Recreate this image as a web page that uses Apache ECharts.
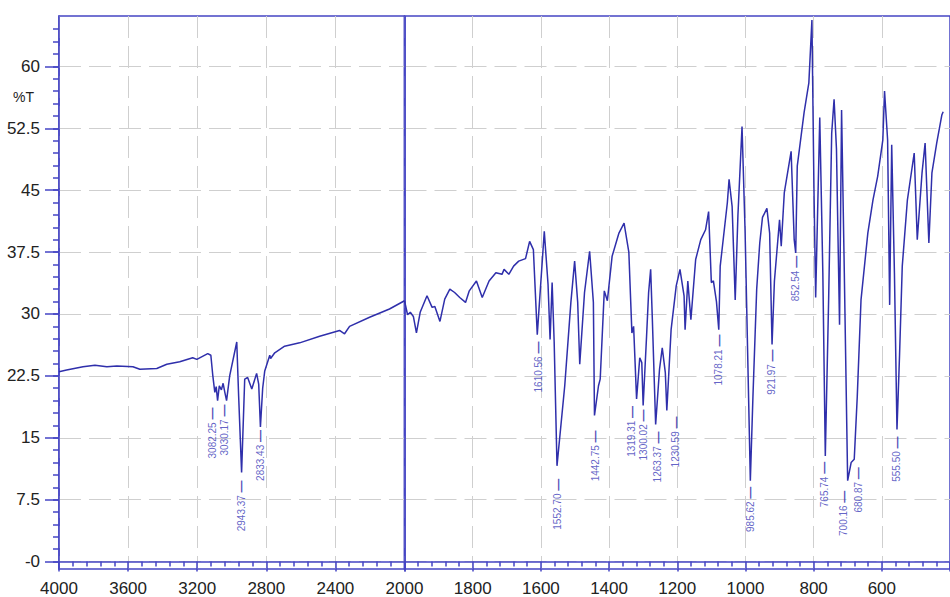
<!DOCTYPE html>
<html><head><meta charset="utf-8">
<script src="https://cdn.jsdelivr.net/npm/echarts@6/dist/echarts.min.js"></script>
<style>html,body{margin:0;padding:0;background:#fff}#c{width:950px;height:597px}</style>
</head><body><div id="c"></div>
<script>
// ---- Data: FTIR spectrum, wavenumber (cm-1) vs %T ----
// 4000-2000 cm-1 segment
const wnLeft = [4000,3956,3861,3792,3723,3665,3572,3532,3434,3376,3301,3226,3202,3139,3121,3110,3098,3090,3082,3072,3060,3050,3040,3030,3012,2971,2960,2943,2925,2908,2884,2856,2844,2834,2821,2809,2780,2775,2751,2694,2607,2491,2376,2347,2318,2202,2087,2000];
const tLeft  = [23.0,23.2,23.6,23.8,23.6,23.7,23.6,23.3,23.4,23.9,24.2,24.7,24.5,25.2,25.0,22.6,20.5,21.2,19.5,21.3,20.8,21.6,20.5,19.5,22.5,26.6,20.0,10.8,22.1,22.3,20.9,22.8,21.5,16.3,21.0,23.1,25.0,24.6,25.3,26.1,26.5,27.3,28.0,27.6,28.5,29.6,30.6,31.6];
// 2000-420 cm-1 segment
const wnRight = [2000,1991,1983,1974,1965,1954,1934,1919,1911,1896,1882,1867,1853,1838,1821,1810,1789,1772,1752,1732,1714,1708,1694,1680,1665,1645,1633,1622,1610.56,1590,1579,1573,1567,1561,1552.7,1530,1512,1501,1492,1486,1472,1457,1446,1442.75,1431,1426,1414,1405,1391,1371,1356,1342,1333,1328,1319.31,1310,1304,1300.02,1290,1284,1278,1273,1263.37,1252,1244,1235,1230.59,1218,1203,1192,1180,1177,1169,1160,1146,1131,1117,1108,1100,1094,1085,1078.21,1074,1053,1048,1039,1030,1022,1010,1001,985.62,978,967,958,950,937,929,921.97,915,900,895,886,866,857,852.54,848,828,814,805,799,794,782,773,765.74,756,747,740,733,724,718,710,700.16,690,680.87,672,661,641,626,612,597,592,583,577,571,563,555.5,548,540,525,505,496,482,473,462,453,439,424,420];
const tRight  = [31.6,29.9,30.2,29.7,27.7,30.2,32.2,30.8,30.9,29.1,31.8,33.0,32.6,32.0,31.4,32.8,34.0,32.0,34.0,35.0,34.8,35.4,34.8,35.8,36.4,36.7,38.8,37.8,27.5,40.0,33.6,26.9,33.8,26.6,11.6,21.3,31.4,36.4,31.4,23.9,32.6,37.6,31.4,17.7,21.3,22.1,32.8,31.6,37.0,39.8,41.0,37.5,27.7,28.5,19.7,24.7,24.1,18.9,27.3,32.6,35.4,29.3,16.6,23.3,25.9,22.9,18.3,28.1,33.4,35.4,32.2,28.1,34.0,29.3,36.6,39.0,40.2,42.4,33.8,34.0,31.5,28.1,35.8,43.5,46.3,43.0,31.7,42.0,52.7,40.0,9.8,20.0,33.0,38.6,41.7,42.8,39.8,26.3,34.0,41.4,38.2,44.7,49.7,39.0,37.4,47.9,54.4,58.0,65.6,45.0,32.0,53.8,35.0,12.8,31.7,51.9,56.0,50.0,28.7,54.7,35.0,9.8,12.0,12.4,20.0,31.7,39.8,43.8,46.7,51.1,57.0,51.1,31.1,50.5,35.0,16.0,25.0,35.8,43.8,49.5,39.0,47.1,50.7,38.6,47.1,50.7,54.1,54.5];
// annotated peaks
const peakWn = [3082.25,3030.17,2943.37,2833.43,1610.56,1552.70,1442.75,1319.31,1300.02,1263.37,1230.59,1078.21,985.62,921.97,852.54,765.74,700.16,680.87,555.50];
const peakT  = [19.5,19.5,10.8,16.3,27.5,11.6,17.7,19.7,18.9,16.6,18.3,28.1,9.8,26.3,37.4,12.8,9.8,12.4,16.0];
// axis ticks
const yMajorTicks = [0,7.5,15,22.5,30,37.5,45,52.5,60];
const yMinorTicks = [0,1.5,3,4.5,6,7.5,9,10.5,12,13.5,15,16.5,18,19.5,21,22.5,24,25.5,27,28.5,30,31.5,33,34.5,36,37.5,39,40.5,42,43.5,45,46.5,48,49.5,51,52.5,54,55.5,57,58.5,60,61.5,63,64.5];
const breakWn = 2000;

// ---- layout (label anchor shifts, px) ----
const labelShift = [[-5,7],[-2,4],[0,8],[0,3],[1,7],[1,13],[1,15],[-5,7],[0,4],[2,7],[9,6],[0,5],[0,6],[0,5],[0,3],[-1,6],[-4,10],[4,8],[0,7]];

const BLUE = '#4545c4';
const CURVE = '#2f2fab';
const GRIDC = '#cfcfcf';
const TXT = '#222';
const LBL = '#3a3ab8';
const FONT = '"Liberation Sans", Arial, sans-serif';

const pairs = (w, t) => w.map((x, i) => [x, t[i]]);
const peakItems = (left) => peakWn.map((w, i) => ({w, i})).filter(o => left ? o.w >= breakWn : o.w < breakWn)
  .map(o => ({value: [o.w, peakT[o.i]], label: {position: labelShift[o.i]}}));

const lblStyle = {show: true, rotate: 90, align: 'right', verticalAlign: 'middle', fontSize: 10,
  color: LBL, fontFamily: FONT,
  formatter: p => '{t|' + p.value[0].toFixed(2) + '} {d|\u2014}',
  rich: {t: {fontSize: 10, color: LBL, fontFamily: FONT}, d: {fontSize: 12, fontWeight: 'bold', color: '#2a2aa8', fontFamily: FONT}}};

const xCommon = {
  type: 'value', inverse: true,
  axisLine: {lineStyle: {color: BLUE, width: 1.5}},
  axisTick: {length: 10, lineStyle: {color: BLUE, width: 1.5}},
  minorTick: {show: true, splitNumber: 5, length: 5, lineStyle: {color: BLUE, width: 1.5}},
  splitLine: {show: true, lineStyle: {color: GRIDC, type: [22, 8], width: 1}},
  axisLabel: {margin: 11, fontSize: 17, color: TXT, fontFamily: FONT, showMinLabel: false, formatter: v => String(v)}
};
const yRange = {type: 'value', min: -0.9, max: 66.1};

const option = {
  animation: false,
  backgroundColor: '#fff',
  grid: [
    {left: 59, top: 16, width: 345.5, height: 554, show: true, borderColor: BLUE, borderWidth: 1.5},
    {left: 404.5, top: 16, width: 554.6, height: 554, show: true, borderColor: BLUE, borderWidth: 1.5}
  ],
  xAxis: [
    Object.assign({}, xCommon, {gridIndex: 0, min: 2000, max: 4000, interval: 400}),
    Object.assign({}, xCommon, {gridIndex: 1, min: 400, max: 2000, interval: 200})
  ],
  yAxis: [
    Object.assign({}, yRange, {gridIndex: 0, position: 'left',
      axisLine: {show: true, lineStyle: {color: BLUE, width: 1.5}},
      axisTick: {show: true, customValues: yMajorTicks, length: 14, lineStyle: {color: BLUE, width: 1.5}},
      axisLabel: {show: true, customValues: yMajorTicks, margin: 19, fontSize: 17, color: TXT, fontFamily: FONT,
        formatter: v => (v === 0 ? '-0' : String(v))},
      splitLine: {show: true, lineStyle: {color: GRIDC, type: [22, 8], width: 1}}}),
    Object.assign({}, yRange, {gridIndex: 0, position: 'left', offset: 0,
      axisLine: {show: false},
      axisTick: {show: true, customValues: yMinorTicks, length: 6, lineStyle: {color: BLUE, width: 1.5}},
      axisLabel: {show: false}, splitLine: {show: false}}),
    Object.assign({}, yRange, {gridIndex: 1, position: 'left',
      axisLine: {show: false},
      axisTick: {show: false, customValues: yMajorTicks},
      axisLabel: {show: false, customValues: yMajorTicks},
      splitLine: {show: true, lineStyle: {color: GRIDC, type: [22, 8], width: 1}}})
  ],
  graphic: [{type: 'text', left: 13, top: 90, style: {text: '%T', fontSize: 14, fill: TXT, fontFamily: FONT}}],
  series: [
    {type: 'line', xAxisIndex: 0, yAxisIndex: 0, data: pairs(wnLeft, tLeft), showSymbol: false, symbol: 'none',
      lineStyle: {color: CURVE, width: 1.5}, z: 5},
    {type: 'line', xAxisIndex: 1, yAxisIndex: 2, data: pairs(wnRight, tRight), showSymbol: false, symbol: 'none',
      lineStyle: {color: CURVE, width: 1.5}, z: 5,
      markLine: {silent: true, symbol: 'none', label: {show: false}, animation: false,
        lineStyle: {color: BLUE, width: 1.8, type: 'solid'}, data: [{xAxis: breakWn}]}},
    {type: 'scatter', xAxisIndex: 0, yAxisIndex: 0, symbolSize: 0.1, itemStyle: {color: 'transparent'},
      data: peakItems(true), label: lblStyle, z: 6},
    {type: 'scatter', xAxisIndex: 1, yAxisIndex: 2, symbolSize: 0.1, itemStyle: {color: 'transparent'},
      data: peakItems(false), label: lblStyle, z: 6}
  ]
};
const chart = echarts.init(document.getElementById('c'), null, {renderer: 'svg'});
chart.setOption(option);
</script></body></html>
